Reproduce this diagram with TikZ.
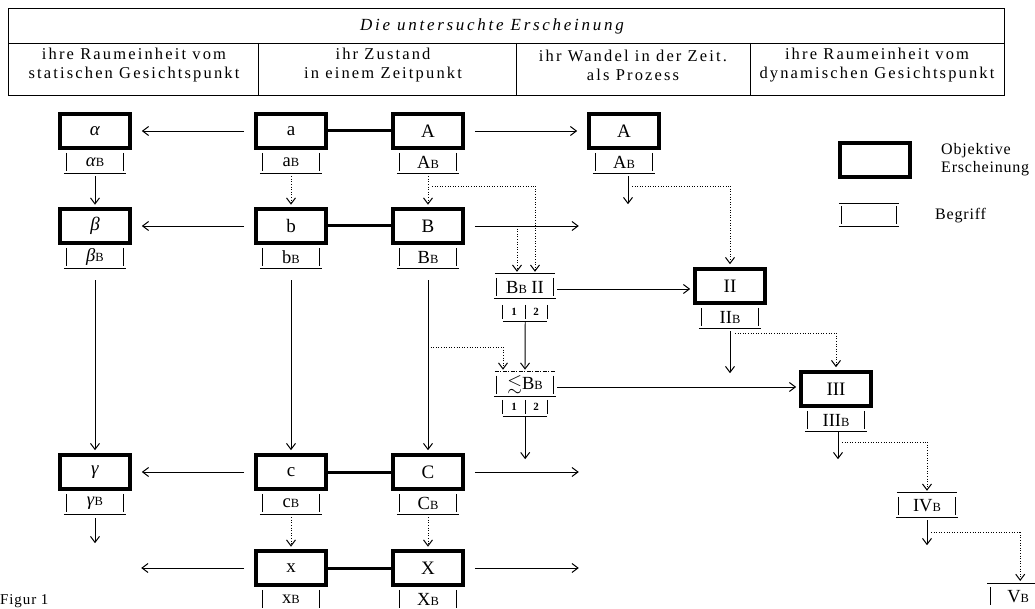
\documentclass[tikz,border=0pt]{standalone}
\usepackage{amssymb}
\usepackage{fontspec}
\setmainfont{Liberation Serif}
\usetikzlibrary{arrows.meta}
\newcommand\sB{{\fontsize{12.5}{12.5}\selectfont B}}
\newcommand\cptbars[1]{%
  \draw[rule] (#1.north west)--(#1.south west) (#1.north east)--(#1.south east);
  \draw[rule] ([xshift=-3pt,yshift=-2pt]#1.south west)--([xshift=3pt,yshift=-2pt]#1.south east);}
\begin{document}
\begin{tikzpicture}[x=1pt,y=-1pt,
  rule/.style={line width=0.8pt},
  obj/.style={draw, line width=3.6pt, minimum width=70pt, minimum height=34pt, inner sep=0pt, font=\fontsize{19}{21}\selectfont},
  cpt/.style={minimum width=56pt, minimum height=18pt, inner sep=0pt, font=\fontsize{18.5}{19}\selectfont},
  subc/.style={minimum width=22pt, minimum height=14pt, inner sep=0pt, font=\fontsize{11}{12}\selectfont\bfseries},
  arr/.style={-{Straight Barb[length=6pt,width=9pt,line width=1pt]}, line width=0.9pt},
  dotarr/.style={arr, dash pattern=on 1pt off 1.6pt},
  dotl/.style={line width=0.9pt, dash pattern=on 1pt off 1.6pt},
  link/.style={line width=3pt},
  head/.style={font=\fontsize{16.5}{19}\selectfont\addfontfeatures{LetterSpace=13}, align=center, inner sep=0pt}]
\useasboundingbox (0,0) rectangle (1035,609);
% header table
\draw[rule] (8,8) rectangle (1004,95);
\draw[rule] (8,43) -- (1004,43);
\draw[rule] (258,43) -- (258,95) (516,43) -- (516,95) (750,43) -- (750,95);
\node[head, font=\fontsize{17}{19}\selectfont\itshape\addfontfeatures{LetterSpace=16}] (title) at (492,26) {Die untersuchte Erscheinung};
\node[head] (h1) at (134,65) {ihre Raumeinheit vom\\statischen Gesichtspunkt};
\node[head] (h2) at (383,65) {ihr Zustand\\in einem Zeitpunkt};
\node[head] (h3) at (633,65) {ihr Wandel in der Zeit.\\als Prozess};
\node[head] (h4) at (877,65) {ihre Raumeinheit vom\\dynamischen Gesichtspunkt};
% objects
\node[obj] (al) at (95,131) {\textit{α}};
\node[obj] (a) at (291,131) {a};
\node[obj] (A) at (428,131) {A};
\node[obj] (A2) at (624,131) {A};
\node[obj] (be) at (95,226) {\textit{β}};
\node[obj] (b) at (291,226) {b};
\node[obj] (B) at (428,226) {B};
\node[obj] (ga) at (95,472) {\textit{γ}};
\node[obj] (c) at (291,472) {c};
\node[obj] (C) at (428,472) {C};
\node[obj] (x) at (291,568) {x};
\node[obj] (X) at (428,568) {X};
\node[obj] (II) at (730,286) {II};
\node[obj] (III) at (836,389) {III};
\node[obj] (leg) at (875,160) {};
% concepts
\node[cpt] (alB) at (95,162) {\textit{α}\sB};
\node[cpt] (aB) at (291,162) {a\sB};
\node[cpt] (AB) at (428,162) {A\sB};
\node[cpt] (A2B) at (624,162) {A\sB};
\node[cpt] (beB) at (95,257) {\textit{β}\sB};
\node[cpt] (bB) at (291,257) {b\sB};
\node[cpt] (BB) at (428,257) {B\sB};
\node[cpt] (gaB) at (95,503) {\textit{γ}\sB};
\node[cpt] (cB) at (291,503) {c\sB};
\node[cpt] (CB) at (428,503) {C\sB};
\node[cpt] (xB) at (291,599) {x\sB};
\node[cpt] (XB) at (428,599) {X\sB};
\node[cpt] (IIB) at (730,317) {II\sB};
\node[cpt] (IIIB) at (836,420) {III\sB};
\node[cpt] (BBII) at (525,287) {B\sB\ II};
\node[cpt] (le) at (525,385) {{\fontsize{19}{19}\selectfont$\lesssim$}B\sB};
\node[cpt] (IVB) at (927,506) {IV\sB};
\node[cpt, anchor=north west] (VB) at (990,587) {V\sB};
\node[cpt, minimum width=54pt] (legB) at (869,215) {};
\foreach \n in {alB,aB,AB,A2B,beB,bB,BB,gaB,cB,CB,IIB,IIIB,BBII,le,IVB,legB}{\cptbars{\n}}
\draw[rule] (xB.north west)--(xB.south west) (xB.north east)--(xB.south east);
\draw[rule] (XB.north west)--(XB.south west) (XB.north east)--(XB.south east);
\draw[rule] ([xshift=-2pt,yshift=4pt]BBII.north west) -- ([xshift=2pt,yshift=4pt]BBII.north east);
\draw[rule, dash pattern=on 4pt off 1.5pt on 1pt off 1.5pt] ([xshift=-2pt,yshift=4pt]le.north west) -- ([xshift=2pt,yshift=4pt]le.north east);
\draw[rule] ([xshift=-2pt,yshift=4pt]IVB.north west) -- ([xshift=2pt,yshift=4pt]IVB.north east);
\draw[rule] ([xshift=-3pt,yshift=4pt]VB.north west) -- ([yshift=4pt]VB.north east);
\draw[rule] (VB.north west) -- (VB.south west);
\draw[rule] ([xshift=-3pt,yshift=2pt]legB.north west) -- ([xshift=3pt,yshift=2pt]legB.north east);
% sub cells 1|2
\node[subc] (s1) at (514,312) {1};
\node[subc] (s2) at (536,312) {2};
\node[subc] (t1) at (514,407) {1};
\node[subc] (t2) at (536,407) {2};
\foreach \p/\q in {s1/s2,t1/t2}{
  \draw[rule] (\p.north west)--(\p.south west) (\p.north east)--(\p.south east) (\q.north east)--(\q.south east);
  \draw[rule] ([yshift=-2pt]\p.south west) -- ([yshift=-2pt]\q.south east);}
% legend texts
\node[anchor=west, align=left, inner sep=0pt, font=\fontsize{16}{18}\selectfont\addfontfeatures{LetterSpace=5}] (legt) at (941,160) {Objektive\\Erscheinung};
\node[anchor=west, inner sep=0pt, font=\fontsize{16}{18}\selectfont\addfontfeatures{LetterSpace=5}] (legc) at (935,216) {Begriff};
\node[anchor=west, inner sep=0pt, font=\fontsize{15}{17}\selectfont\addfontfeatures{LetterSpace=6}] (fig) at (0,601) {Figur 1};
% thick links
\draw[link] (a) -- (A);
\draw[link] (b) -- (B);
\draw[link] (c) -- (C);
\draw[link] (x) -- (X);
% helper coordinates
\coordinate (p1) at ([xshift=4pt,yshift=-2pt]BBII.east);
\coordinate (p2) at ([xshift=4pt,yshift=-2pt]le.east);
\coordinate (q1) at ([xshift=4pt,yshift=-15pt]AB.south);
\coordinate (q2) at ([xshift=8pt,yshift=-15pt]A2B.south);
\coordinate (q3) at ([yshift=-81pt]BB.south);
\coordinate (q4) at ([xshift=5pt,yshift=-7pt]IIB.south);
\coordinate (q5) at ([xshift=6pt,yshift=-13pt]IIIB.south);
\coordinate (q6) at ([xshift=4pt,yshift=-17pt]IVB.south);
\coordinate (r1) at ([xshift=10pt]BBII.north);
\coordinate (r2) at ([xshift=-8pt]BBII.north);
\coordinate (r3) at ([xshift=-22pt]le.north);
\coordinate (r4) at ([xshift=2pt]VB.north);
% horizontal arrows
\draw[arr] ([xshift=-10pt]a.west) -- ([xshift=10pt]al.east);
\draw[arr] ([xshift=-10pt]b.west) -- ([xshift=10pt]be.east);
\draw[arr] ([xshift=-10pt]c.west) -- ([xshift=10pt]ga.east);
\draw[arr] ([xshift=-10pt]x.west) -- ++(-103,0);
\draw[arr] ([xshift=10pt]A.east) -- ([xshift=-10pt]A2.west);
\draw[arr] ([xshift=10pt]B.east) -- ++(104,0);
\draw[arr] ([xshift=10pt]C.east) -- ++(104,0);
\draw[arr] ([xshift=10pt]X.east) -- ++(104,0);
\draw[arr, shorten >=3pt] (p1) -- (II.west |- p1);
\draw[arr, shorten >=3pt] (p2) -- (III.west |- p2);
% vertical arrows
\draw[arr, shorten >=2.5pt] ([yshift=-5pt]alB.south) -- (be.north);
\draw[dotarr, shorten >=2.5pt] ([yshift=-5pt]aB.south) -- (b.north);
\draw[dotarr, shorten >=2.5pt] ([yshift=-5pt]AB.south) -- (B.north);
\draw[arr] ([xshift=4pt,yshift=-5pt]A2B.south) -- ++(0,28);
\draw[arr, shorten >=3pt] ([yshift=-14pt]beB.south) -- (ga.north);
\draw[arr, shorten >=3pt] ([yshift=-14pt]bB.south) -- (c.north);
\draw[arr, shorten >=3pt] ([yshift=-14pt]BB.south) -- (C.north);
\draw[arr] ([yshift=-6pt]gaB.south) -- ++(0,25);
\draw[dotarr, shorten >=2.5pt] ([yshift=-5pt]cB.south) -- (x.north);
\draw[dotarr, shorten >=2.5pt] ([yshift=-5pt]CB.south) -- (X.north);
\draw[arr, shorten >=6pt] ([yshift=-3pt]s1.south east) -- (le.north);
\draw[arr] ([yshift=-3pt]t1.south east) -- ++(0,42);
\draw[arr] ([yshift=-5pt]IIB.south) -- ++(0,42);
\draw[arr] ([xshift=2pt,yshift=-3pt]IIIB.south) -- ++(0,27);
\draw[arr] ([yshift=-5pt]IVB.south) -- ++(0,25);
% dotted routes
\draw[dotl] (q1) -- (r1 |- q1);
\draw[dotarr, shorten >=6pt] (r1 |- q1) -- (r1);
\draw[dotarr, shorten >=6pt] (r2 |- B.east) -- (r2);
\draw[dotl] (q2) -- (II.north |- q2);
\draw[dotarr, shorten >=3pt] (II.north |- q2) -- (II.north);
\draw[dotl] (q3) -- (r3 |- q3);
\draw[dotarr, shorten >=6pt] (r3 |- q3) -- (r3);
\draw[dotl] (q4) -- (III.north |- q4);
\draw[dotarr, shorten >=3pt] (III.north |- q4) -- (III.north);
\draw[dotl] (q5) -- (IVB.north |- q5);
\draw[dotarr, shorten >=6pt] (IVB.north |- q5) -- (IVB.north);
\draw[dotl] (q6) -- (r4 |- q6);
\draw[dotarr, shorten >=6pt] (r4 |- q6) -- (r4);
\end{tikzpicture}
\end{document}
